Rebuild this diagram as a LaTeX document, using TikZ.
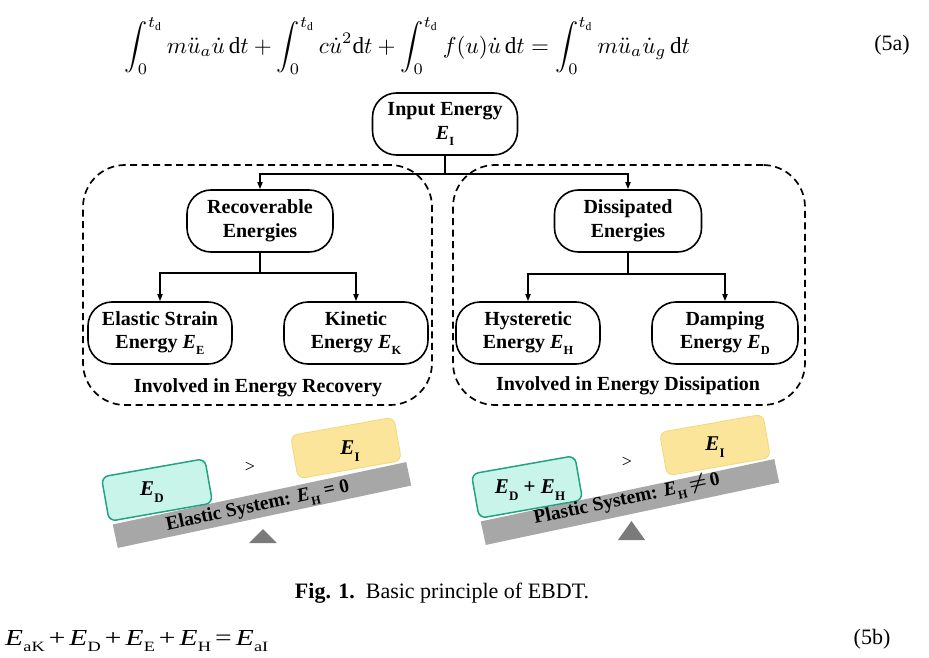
\documentclass[tikz,border=0pt]{standalone}
\usepackage{fontspec}
\setmainfont{Liberation Serif}
\usepackage{graphicx}
\usetikzlibrary{arrows.meta}
\newcommand\Sb[1]{\raisebox{-0.3em}{\scalebox{0.62}{#1}}}
\newcommand\Ei[1]{\textit{E}\kern0.2pt\Sb{#1}}
\newcommand\Op[1]{\kern3pt#1\kern3pt}
\definecolor{tealfill}{HTML}{C9F4EA}
\definecolor{tealline}{HTML}{22A383}
\definecolor{yelfill}{HTML}{FBE59B}
\definecolor{yelline}{HTML}{F3D77A}
\definecolor{beamgray}{HTML}{A7A7A7}
\definecolor{fulcgray}{HTML}{7A7A7A}
\begin{document}
\begin{tikzpicture}[x=1pt,y=1pt,
  enode/.style={draw, line width=1.6pt, rounded corners=24pt, minimum height=62pt, align=center, font=\fontsize{20}{23.5}\selectfont\bfseries, inner sep=0pt},
  grp/.style={draw, line width=1.7pt, dash pattern=on 7pt off 4.5pt, rounded corners=42pt, inner sep=0pt},
  link/.style={line width=1.6pt, -{Triangle[length=7pt,width=5pt]}},
  grplabel/.style={font=\fontsize{20}{22}\selectfont\bfseries, inner sep=0pt},
  beam/.style={fill=beamgray, minimum width=300pt, minimum height=24pt, inner sep=0pt},
  beamtext/.style={font=\fontsize{19.5}{22}\selectfont\bfseries, inner sep=0pt},
  tealbox/.style={fill=tealfill, draw=tealline, line width=1.5pt, rounded corners=7pt, minimum width=105pt, minimum height=45pt, inner sep=0pt},
  yelbox/.style={fill=yelfill, draw=yelline, line width=0.8pt, rounded corners=7pt, minimum width=105pt, minimum height=44pt, inner sep=0pt},
  boxtext/.style={font=\fontsize{21}{24}\selectfont\bfseries, inner sep=0pt},
  gt/.style={font=\fontsize{18}{20}\selectfont, inner sep=0pt},
  eqnum/.style={font=\fontsize{22}{24}\selectfont, inner sep=0pt},
]
\useasboundingbox[fill=white] (0,0) rectangle (929,-658);

% equation 5a
\node[inner sep=0pt] (eqa) at (407.5,-46) {\resizebox{565pt}{!}{$\displaystyle\int_0^{t_\mathrm{d}} m\ddot{u}_a\dot{u}\,\mathrm{d}t+\int_0^{t_\mathrm{d}} c\dot{u}^2\mathrm{d}t+\int_0^{t_\mathrm{d}} f(u)\dot{u}\,\mathrm{d}t=\int_0^{t_\mathrm{d}} m\ddot{u}_a\dot{u}_g\,\mathrm{d}t$}};
\node[eqnum] (eqan) at (892,-45) {(5a)};

% groups
\node[grp, minimum width=349pt, minimum height=240pt] (gL) at (257.5,-285) {};
\node[grp, minimum width=352pt, minimum height=240pt] (gR) at (629,-285) {};
\node[grplabel] (gLl) at (258,-388) {Involved in Energy Recovery};
\node[grplabel] (gRl) at (628,-386) {Involved in Energy Dissipation};

% tree nodes
\node[enode, minimum width=145pt] (in) at (445,-124) {Input Energy\\\Ei{I}};
\node[enode, minimum width=146pt] (rec) at (260,-221) {Recoverable\\Energies};
\node[enode, minimum width=147pt] (dis) at (628,-221) {Dissipated\\Energies};
\node[enode, minimum width=144pt] (ela) at (160,-333) {Elastic Strain\\Energy \Ei{E}};
\node[enode, minimum width=144pt] (kin) at (356,-333) {Kinetic\\Energy \Ei{K}};
\node[enode, minimum width=144pt] (hys) at (528,-333) {Hysteretic\\Energy \Ei{H}};
\node[enode, minimum width=146pt] (dam) at (725,-333) {Damping\\Energy \Ei{D}};

% connectors
\draw[link] (in.south) -- ++(0,-18) coordinate (j0) -| (rec.north);
\draw[link] (j0) -| (dis.north);
\draw[link] (rec.south) -- ++(0,-20) coordinate (j1) -| (ela.north);
\draw[link] (j1) -| (kin.north);
\draw[link] (dis.south) -- ++(0,-21) coordinate (j2) -| (hys.north);
\draw[link] (j2) -| (dam.north);

% left balance
\node[yelbox, rotate=10] (yL) at (346,-448) {};
\node[beam, rotate=12] (bL) at (262,-505) {};
\fill[fulcgray] (249,-543) -- (263,-529) -- (277,-543) -- cycle;
\node[tealbox, rotate=10] (tL) at (157,-490) {};
\node[boxtext] (tLt) at (152,-492) {\Ei{D}};
\node[boxtext] (yLt) at (350,-451) {\Ei{I}};
\node[beamtext, rotate=12] (bLt) at (258,-507) {Elastic System: \Ei{H} = 0};
\node[gt] (gtL) at (250,-467) {>};

% right balance
\node[yelbox, rotate=10] (yR) at (715,-445) {};
\node[beam, rotate=12] (bR) at (630,-502) {};
\fill[fulcgray] (618,-540) -- (631.5,-521) -- (645,-540) -- cycle;
\node[tealbox, rotate=10] (tR) at (527,-487) {};
\node[boxtext] (tRt) at (530,-490) {\Ei{D} + \Ei{H}};
\node[boxtext] (yRt) at (715,-447) {\Ei{I}};
\node[beamtext, rotate=12] (bRt) at (627,-500) {Plastic System: \Ei{H}\,\mbox{\boldmath$\neq$}\,0};
\node[gt] (gtR) at (627,-462) {>};

% caption
\node[inner sep=0pt] (cap) at (442,-593) {\fontsize{22}{24}\selectfont\textbf{Fig. 1.}\enspace Basic principle of EBDT.};

% equation 5b
\node[inner sep=0pt, anchor=base west] (eqb) at (5,-645) {\resizebox{263pt}{15pt}{\fontsize{22}{24}\selectfont\Ei{aK}\Op{+}\Ei{D}\Op{+}\Ei{E}\Op{+}\Ei{H}\Op{=}\Ei{aI}}};
\node[eqnum, anchor=base] (eqbn) at (872,-644) {(5b)};
\end{tikzpicture}
\end{document}
